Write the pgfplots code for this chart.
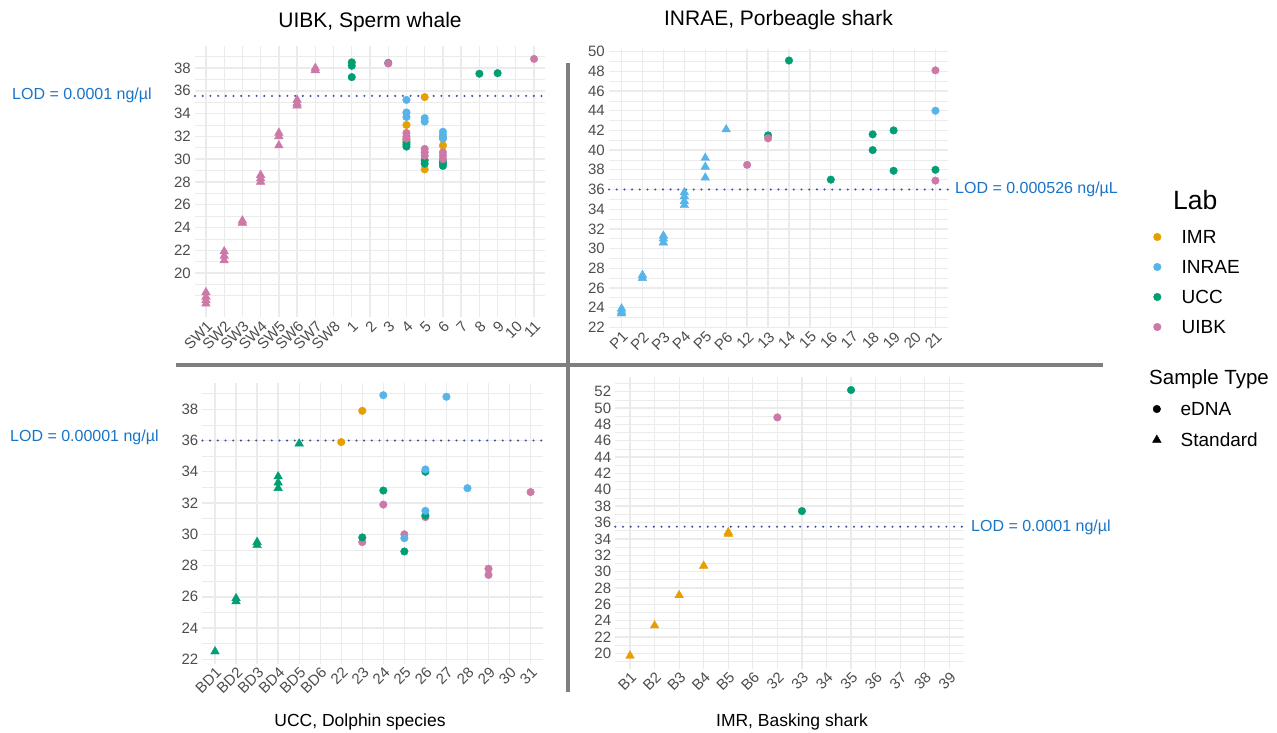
\documentclass[border=0pt]{standalone}
\usepackage{fontspec}
\setmainfont{Liberation Sans}
\usepackage{pgfplots}
\pgfplotsset{compat=1.18}
\definecolor{cIMR}{HTML}{E69F00}
\definecolor{cINRAE}{HTML}{56B4E9}
\definecolor{cUCC}{HTML}{009E73}
\definecolor{cUIBK}{HTML}{CC79A7}
\definecolor{gridc}{HTML}{EBEBEB}
\definecolor{tickc}{HTML}{4D4D4D}
\definecolor{lodline}{HTML}{3F4FA6}
\definecolor{lodtext}{HTML}{1874C8}
\definecolor{sepc}{HTML}{7F7F7F}
\newcommand{\fs}[1]{\fontsize{#1}{#1}\selectfont}
\pgfplotsset{
  panel/.style={
    scale only axis, anchor=south west, clip=false,
    axis line style={draw=none},
    major tick length=0pt, minor tick length=0pt,
    xmajorgrids, ymajorgrids, yminorgrids,
    major grid style={gridc, line width=1.3pt},
    minor grid style={gridc, line width=0.6pt},
    tick label style={font=\fs{15}, text=tickc},
    /pgf/number format/assume math mode=true,
    xticklabel style={rotate=45, anchor=north east, inner sep=1.5pt},
    yticklabel style={anchor=east, inner sep=4pt},
  },
  ed/.style={only marks, mark=*, mark size=3.8pt, mark options={draw=none}},
  st/.style={only marks, mark=triangle*, mark size=5pt, mark options={draw=none}},
  lod/.style={lodline, line width=2.3pt, line cap=round, dash pattern=on 0pt off 7.7pt},
  leg/.style={hide axis, scale only axis, width=5pt, height=5pt, anchor=north west,
    xmin=0, xmax=1, ymin=0, ymax=1, legend cell align=left,
    legend image code/.code={\draw[##1] plot coordinates {(0pt,0pt)};},
    legend style={at={(0,1)}, anchor=north west, draw=none, fill=none, inner sep=0pt, outer sep=0pt,
      font=\fs{19}, nodes={inner sep=0pt, outer sep=0pt, text height=13.6pt, text depth=0pt}}},
}
\begin{document}
\begin{tikzpicture}
\useasboundingbox (0pt,0pt) rectangle (1277pt,732pt);

% ---------- Panel 1: UIBK, Sperm whale ----------
\begin{axis}[panel, at={(195pt,414.6pt)}, width=350pt, height=271pt,
  xmin=-0.6, xmax=18.6, ymin=16.1, ymax=39.9,
  xtick={0,...,18}, xticklabels={SW1,SW2,SW3,SW4,SW5,SW6,SW7,SW8,1,2,3,4,5,6,7,8,9,10,11},
  ytick={20,22,...,38}, minor ytick={18,...,39}]
\addplot[lod] coordinates {(-0.6,35.55) (18.6,35.55)};
\addplot[st, cUIBK] coordinates {(0,18.3)(0,17.9)(0,17.6)(0,17.3)
 (1,21.9)(1,21.5)(1,21.1)(2,24.6)(2,24.4)(3,28.6)(3,28.3)(3,28.0)
 (4,32.3)(4,32.0)(4,31.2)(5,35.2)(5,34.9)(5,34.7)(6,38.0)(6,37.8)};
\addplot[ed, cIMR] coordinates {(11,33.0)(11,31.7)(12,35.45)(12,29.1)(13,31.9)(13,31.2)};
\addplot[ed, cINRAE] coordinates {(11,35.2)(11,34.1)(11,33.7)(12,33.6)(12,33.3)(13,32.4)(13,32.1)(13,31.8)};
\addplot[ed, cUCC] coordinates {(8,38.5)(8,38.2)(8,37.2)(10,38.45)(11,31.5)(11,31.3)(11,31.1)
 (12,29.9)(12,29.6)(13,29.8)(13,29.6)(13,29.4)(15,37.5)(16,37.55)};
\addplot[ed, cUIBK] coordinates {(10,38.4)(11,32.3)(11,32.0)(11,31.8)(12,30.9)(12,30.6)(12,30.3)
 (13,30.6)(13,30.3)(13,30.0)(18,38.8)};
\end{axis}

% ---------- Panel 2: INRAE, Porbeagle shark ----------
\begin{axis}[panel, at={(609pt,403.7pt)}, width=339pt, height=279.6pt,
  xmin=-0.6, xmax=15.6, ymin=21.9, ymax=50.3,
  xtick={0,...,15}, xticklabels={P1,P2,P3,P4,P5,P6,12,13,14,15,16,17,18,19,20,21},
  ytick={22,24,...,50}, minor ytick={22,...,50}]
\addplot[lod] coordinates {(-0.6,36.0) (15.6,36.0)};
\addplot[st, cINRAE] coordinates {(0,23.9)(0,23.6)(0,23.4)(1,27.3)(1,27.0)
 (2,31.3)(2,31.0)(2,30.6)(3,35.7)(3,35.3)(3,34.8)(3,34.4)(4,39.2)(4,38.3)(4,37.2)(5,42.1)};
\addplot[ed, cINRAE] coordinates {(15,44.0)};
\addplot[ed, cUCC] coordinates {(7,41.5)(8,49.1)(10,37.0)(12,41.6)(12,40.0)(13,42.0)(13,37.9)(15,38.0)};
\addplot[ed, cUIBK] coordinates {(6,38.5)(7,41.2)(15,48.1)(15,36.9)};
\end{axis}

% ---------- Panel 3: UCC, Dolphin species ----------
\begin{axis}[panel, at={(202.4pt,68pt)}, width=340.8pt, height=281.3pt,
  xmin=-0.6, xmax=15.6, ymin=21.7, ymax=39.7,
  xtick={0,...,15}, xticklabels={BD1,BD2,BD3,BD4,BD5,BD6,22,23,24,25,26,27,28,29,30,31},
  ytick={22,24,...,38}, minor ytick={22,...,39}]
\addplot[lod] coordinates {(-0.6,36.0) (15.6,36.0)};
\addplot[st, cUCC] coordinates {(0,22.5)(1,25.9)(1,25.7)(2,29.5)(2,29.3)(3,33.7)(3,33.3)(3,32.95)(4,35.8)};
\addplot[ed, cUIBK] coordinates {(7,29.5)(8,31.9)(9,30.0)(10,31.1)(13,27.8)(13,27.4)(15,32.7)};
\addplot[ed, cUCC] coordinates {(7,29.8)(8,32.8)(9,28.9)(10,34.0)(10,31.2)};
\addplot[ed, cINRAE] coordinates {(8,38.9)(9,29.75)(10,34.15)(10,31.5)(11,38.8)(12,32.95)};
\addplot[ed, cIMR] coordinates {(6,35.9)(7,37.9)};
\end{axis}

% ---------- Panel 4: IMR, Basking shark ----------
\begin{axis}[panel, at={(615.3pt,62.9pt)}, width=348.7pt, height=292.4pt,
  xmin=-0.6, xmax=13.6, ymin=18.07, ymax=53.83,
  xtick={0,...,13}, xticklabels={B1,B2,B3,B4,B5,B6,32,33,34,35,36,37,38,39},
  ytick={20,22,...,52}, minor ytick={19,...,53}]
\addplot[lod] coordinates {(-0.6,35.49) (13.6,35.49)};
\addplot[st, cIMR] coordinates {(0,19.7)(1,23.4)(2,27.1)(3,30.7)(4,34.8)(4,34.6)};
\addplot[ed, cUCC] coordinates {(7,37.4)(9,52.2)};
\addplot[ed, cUIBK] coordinates {(6,48.85)};
\end{axis}

% ---------- separators ----------
\draw[sepc, line width=4pt] (568pt,669pt) -- (568pt,40pt);
\draw[sepc, line width=4pt] (176pt,367pt) -- (1103pt,367pt);

% ---------- titles ----------
\node[font=\fs{21}] at (370pt,710pt) {UIBK, Sperm whale};
\node[font=\fs{21}] at (778.5pt,712pt) {INRAE, Porbeagle shark};
\node[font=\fs{17.5}] at (360pt,10pt) {UCC, Dolphin species};
\node[font=\fs{17.5}] at (792pt,10pt) {IMR, Basking shark};

% ---------- LOD labels ----------
\node[font=\fs{16}, text=lodtext, anchor=west, inner sep=0pt] at (12pt,636.3pt) {LOD = 0.0001 ng/µl};
\node[font=\fs{16}, text=lodtext, anchor=west, inner sep=0pt] at (955pt,542.7pt) {LOD = 0.000526 ng/µL};
\node[font=\fs{16}, text=lodtext, anchor=west, inner sep=0pt] at (10pt,295pt) {LOD = 0.00001 ng/µl};
\node[font=\fs{16}, text=lodtext, anchor=west, inner sep=0pt] at (971pt,205pt) {LOD = 0.0001 ng/µl};

% ---------- legends ----------
\node[font=\fs{26.5}, anchor=west, inner sep=0pt] at (1173pt,532pt) {Lab};
\begin{axis}[leg, at={(1153.5pt,501.8pt)}, legend style={row sep=16.4pt, column sep=20.6pt}]
\addlegendimage{only marks, mark=*, mark size=3.8pt, cIMR, mark options={draw=none}}
\addlegendentry{IMR}
\addlegendimage{only marks, mark=*, mark size=3.8pt, cINRAE, mark options={draw=none}}
\addlegendentry{INRAE}
\addlegendimage{only marks, mark=*, mark size=3.8pt, cUCC, mark options={draw=none}}
\addlegendentry{UCC}
\addlegendimage{only marks, mark=*, mark size=3.8pt, cUIBK, mark options={draw=none}}
\addlegendentry{UIBK}
\end{axis}
\node[font=\fs{20.5}, anchor=west, inner sep=0pt] at (1149pt,353pt) {Sample Type};
\begin{axis}[leg, at={(1152.5pt,329.8pt)}, legend style={row sep=17.4pt, column sep=19.5pt}]
\addlegendimage{only marks, mark=*, mark size=3.8pt, black, mark options={draw=none}}
\addlegendentry{eDNA}
\addlegendimage{only marks, mark=triangle*, mark size=5pt, black, mark options={draw=none}}
\addlegendentry{Standard}
\end{axis}
\end{tikzpicture}
\end{document}
